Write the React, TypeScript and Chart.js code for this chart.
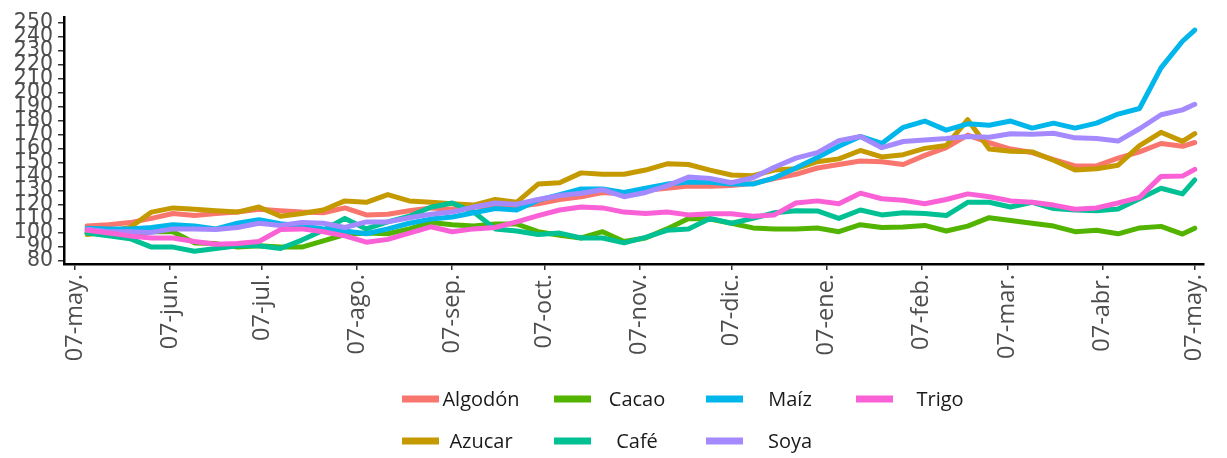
import React, { useEffect, useRef } from "react";
import { Chart, registerables } from "chart.js";

Chart.register(...registerables);

// Days since 07-may (x position of each observation)
const DAYS = [4, 11, 18, 25, 32, 39, 46, 53, 60, 67, 74, 81, 88, 95, 102, 109, 116, 123, 130, 137, 144, 151, 158, 165, 172, 179, 186, 193, 200, 207, 214, 221, 228, 235, 242, 249, 256, 263, 270, 277, 284, 291, 298, 305, 312, 319, 326, 333, 340, 347, 354, 361, 365];

const TICK_DAYS = [0, 31, 61, 92, 123, 153, 184, 214, 245, 276, 304, 335, 365];
const TICK_LABELS = ["07-may.", "07-jun.", "07-jul.", "07-ago.", "07-sep.", "07-oct.", "07-nov.", "07-dic.", "07-ene.", "07-feb.", "07-mar.", "07-abr.", "07-may."];

const Y_TICKS = [80, 90, 100, 110, 120, 130, 140, 150, 160, 170, 180, 190, 200, 210, 220, 230, 240, 250];

const ALGODON = [105, 106, 107.5, 110.5, 114, 112.5, 114, 115, 117, 116, 115, 114.5, 118, 113, 113.5, 116, 118, 117, 118.5, 119.5, 119, 121, 124, 126, 129, 128, 130.5, 132, 133.7, 133.5, 134, 135.5, 139, 142, 146.5, 149, 151.5, 151, 149, 155.5, 161, 170, 164.5, 160, 157.5, 152.5, 148, 148, 153.5, 158, 164, 162, 164.7];
const AZUCAR = [99, 101, 104, 115, 118, 117, 116, 115, 118.6, 112, 114, 116.5, 123, 122, 127.5, 123, 122, 121, 120, 124, 122, 135, 136, 143, 142, 142, 145, 149.5, 149, 145, 141.5, 141, 145, 146, 151, 153, 159, 154.4, 156, 160.5, 162.5, 181, 160, 158.5, 158, 152, 145, 146, 148.5, 162.5, 172, 165.5, 171];
const CACAO = [100.5, 100, 99, 101, 101, 93, 92.5, 90, 91, 90, 90, 94.5, 99, 100, 99.5, 103, 107.5, 106, 105, 106.5, 106.5, 101, 98.5, 96.5, 101, 94, 96.5, 103, 110.5, 110, 107, 103.7, 103, 103, 103.7, 101, 106, 104, 104.3, 105.5, 101.5, 105, 111, 109, 107, 105, 101, 102, 99.5, 103.7, 104.8, 99.3, 103.5];
const CAFE = [100, 98, 96, 90, 90, 87, 89, 91, 91, 89, 95, 102, 110.5, 103, 108, 112, 118.5, 121.5, 115, 103, 101.5, 99, 100, 96.5, 96.5, 93, 97, 102, 103, 110.5, 107, 110.5, 114.5, 116, 115.8, 110.5, 116.5, 113, 114.5, 114, 112.5, 122, 122, 118.6, 122, 117.5, 116.5, 116, 117.2, 124.5, 132, 128, 138];
const MAIZ = [103.5, 103, 103, 104, 106, 105, 103, 107, 109.6, 106.7, 105.2, 103, 101.5, 99.5, 103, 107, 110, 111.5, 114.5, 117.5, 116.5, 123.5, 127.5, 131.5, 131.5, 129, 132, 135, 136.5, 136.3, 135, 135, 139.5, 146.5, 154, 162, 169, 164, 175.5, 180, 173.5, 178, 177, 180, 175, 178.5, 175, 178.5, 185, 189, 218, 237, 245];
const SOYA = [102.7, 101, 101, 100.5, 103, 103, 102.5, 104, 107, 105.5, 107.5, 107, 104, 108, 108, 111, 113.5, 115, 118.6, 121.5, 120.6, 124, 126.8, 128.5, 131, 126, 129, 133.7, 140, 139, 136, 139.5, 147, 153.5, 157.5, 166, 169, 161, 165.4, 166.5, 167.5, 169, 168.5, 171, 170.5, 171.3, 168, 167.5, 165.7, 174.5, 184.5, 188, 192];
const TRIGO = [102, 100, 98, 96.5, 96.5, 94, 92, 92.5, 94, 102.5, 103, 101, 98, 93.5, 95.5, 100, 104.5, 101, 103, 104, 108, 112.5, 116.5, 118.6, 118, 115, 114, 115, 113, 113.8, 113.8, 112, 113, 121.5, 123, 121, 128.5, 124.5, 123.5, 121, 124, 128, 126, 123, 122, 120, 117, 118, 121.5, 125.5, 140.5, 140.7, 145.5];

const SERIES_NAMES = ["Algodón", "Azucar", "Cacao", "Café", "Maíz", "Soya", "Trigo"];
const SERIES_VALUES = [ALGODON, AZUCAR, CACAO, CAFE, MAIZ, SOYA, TRIGO];
const SERIES_COLORS = ["#F8766D", "#C49A00", "#53B400", "#00C094", "#00B6EB", "#A58AFF", "#FB61D7"];

// legend reading order (2 rows, filled by column as in the original)
const LEGEND_ORDER = ["Algodón", "Cacao", "Maíz", "Trigo", "Azucar", "Café", "Soya"];

const gridLegend = {
  id: "gridLegend",
  afterDraw(chart: any) {
    const ctx = chart.ctx;
    const boxX = [402, 554, 706, 856];
    const textX = [481, 637, 790, 940];
    const rowY = [400, 442];
    ctx.save();
    ctx.font = "20px 'Open Sans', sans-serif";
    ctx.textAlign = "center";
    ctx.textBaseline = "middle";
    LEGEND_ORDER.forEach((name, i) => {
      const ds = chart.data.datasets.find((d: any) => d.label === name);
      if (!ds) return;
      const col = i % 4;
      const row = Math.floor(i / 4);
      const y = rowY[row];
      ctx.strokeStyle = ds.borderColor;
      ctx.lineWidth = 7;
      ctx.lineCap = "butt";
      ctx.beginPath();
      ctx.moveTo(boxX[col], y - 1);
      ctx.lineTo(boxX[col] + 37, y - 1);
      ctx.stroke();
      ctx.fillStyle = "#1a1a1a";
      ctx.fillText(name, textX[col], y);
    });
    ctx.restore();
  },
};

export default function App() {
  const ref = useRef<HTMLCanvasElement | null>(null);

  useEffect(() => {
    if (!ref.current) return;
    const datasets = SERIES_NAMES.map((name, i) => ({
      label: name,
      data: DAYS.map((d, j) => ({ x: d, y: SERIES_VALUES[i][j] })),
      borderColor: SERIES_COLORS[i],
      backgroundColor: SERIES_COLORS[i],
      borderWidth: 5,
      pointRadius: 0,
      tension: 0,
      borderJoinStyle: "round" as const,
      borderCapStyle: "round" as const,
      order: SERIES_NAMES.length - i,
    }));

    const chart = new Chart(ref.current, {
      type: "line",
      data: { datasets },
      plugins: [gridLegend],
      options: {
        animation: false,
        responsive: false,
        layout: { padding: { top: 9, right: 5, bottom: 84, left: 0 } },
        plugins: {
          legend: { display: false },
          tooltip: { enabled: false },
          title: { display: false },
        },
        scales: {
          x: {
            type: "linear",
            min: -3.53,
            max: 367.9,
            afterBuildTicks: (scale: any) => {
              scale.ticks = TICK_DAYS.map((v) => ({ value: v }));
            },
            afterFit: (scale: any) => {
              scale.height = 110;
            },
            ticks: {
              autoSkip: false,
              maxRotation: 90,
              minRotation: 90,
              padding: 4,
              color: "#4d4d4d",
              font: { family: "'Open Sans', sans-serif", size: 23.5 },
              callback: (value: any) => {
                const idx = TICK_DAYS.indexOf(Number(value));
                return idx >= 0 ? TICK_LABELS[idx] : "";
              },
            },
            grid: {
              drawOnChartArea: false,
              drawTicks: true,
              tickLength: 6,
              color: "#333333",
              lineWidth: 1.5,
            },
            border: { display: true, color: "#000000", width: 2.5 },
          },
          y: {
            type: "linear",
            min: 77.93,
            max: 254.1,
            afterBuildTicks: (scale: any) => {
              scale.ticks = Y_TICKS.map((v) => ({ value: v }));
            },
            afterFit: (scale: any) => {
              scale.width = 64;
            },
            ticks: {
              autoSkip: false,
              padding: 5,
              color: "#4d4d4d",
              font: { family: "'DejaVu Sans', sans-serif", size: 20.5 },
              callback: (value: any) => String(value),
            },
            grid: {
              drawOnChartArea: false,
              drawTicks: true,
              tickLength: 6,
              color: "#333333",
              lineWidth: 1.5,
            },
            border: { display: true, color: "#000000", width: 2.5 },
          },
        },
      },
    });
    return () => chart.destroy();
  }, []);

  return (
    <div style={{ position: "absolute", left: 0, top: 0, width: 1227, height: 458, background: "#fff" }}>
      <canvas ref={ref} width={1227} height={458} style={{ display: "block" }} />
    </div>
  );
}
